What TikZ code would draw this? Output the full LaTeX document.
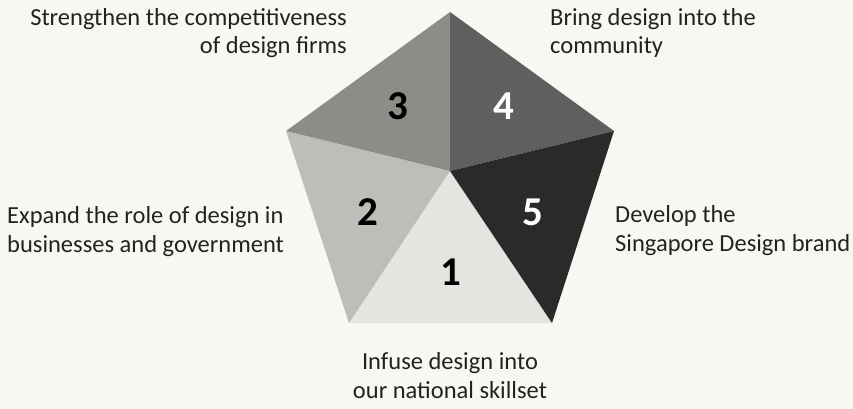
\documentclass[tikz,border=0pt]{standalone}
\usepackage{fontspec}
\setmainfont{Carlito}
\usepackage{xcolor}
\definecolor{paper}{HTML}{F8F8F3}
\definecolor{ink}{HTML}{222222}
\definecolor{shadeA}{HTML}{E4E4E0}
\definecolor{shadeB}{HTML}{BDBDB9}
\definecolor{shadeC}{HTML}{8C8C89}
\definecolor{shadeD}{HTML}{5F5F5F}
\definecolor{shadeE}{HTML}{2A2A2A}
\tikzset{
  label/.style={font=\fontsize{24.5}{28.5}\selectfont, text=ink, inner sep=0pt},
  digit/.style={font=\fontsize{41}{41}\selectfont\bfseries, inner sep=0pt},
  every node/.append style={anchor=base}
}

\begin{document}
\begin{tikzpicture}[x=1pt, y=-1pt]
\fill[paper] (0,0) rectangle (853,409);
\useasboundingbox (0,0) rectangle (853,409);
\coordinate (C) at (450,171);
\coordinate (T) at (450,12);
\coordinate (UL) at (286,131);
\coordinate (UR) at (614,131);
\coordinate (LL) at (349,323);
\coordinate (LR) at (552,323);
\fill[shadeA] (C) -- (LL) -- (LR) -- cycle;
\fill[shadeB] (C) -- (UL) -- (LL) -- cycle;
\fill[shadeC] (C) -- (T) -- (UL) -- cycle;
\fill[shadeD] (C) -- (T) -- (UR) -- cycle;
\fill[shadeE] (C) -- (UR) -- (LR) -- cycle;
\node[digit, text=black] (n1) at (450.5,285) {1};
\node[digit, text=black] (n2) at (367.5,225) {2};
\node[digit, text=black] (n3) at (397.5,120) {3};
\node[digit, text=white] (n4) at (504,120) {4};
\node[digit, text=white] (n5) at (532.5,225) {5};
% anchors sit on the last line
\node[label, anchor=base east, align=right] (s3) at (347,54) {Strengthen the competitiveness\\of design firms};
\node[label, anchor=base west, align=left] (s4) at (550,54) {Bring design into the\\community};
\node[label, anchor=base west, align=left] (s2) at (7,252) {Expand the role of design in\\businesses and government};
\node[label, anchor=base west, align=left] (s5) at (615,251) {Develop the\\Singapore Design brand};
\node[label, anchor=base, align=center] (s1) at (450,398) {Infuse design into\\our national skillset};
\end{tikzpicture}
\end{document}
